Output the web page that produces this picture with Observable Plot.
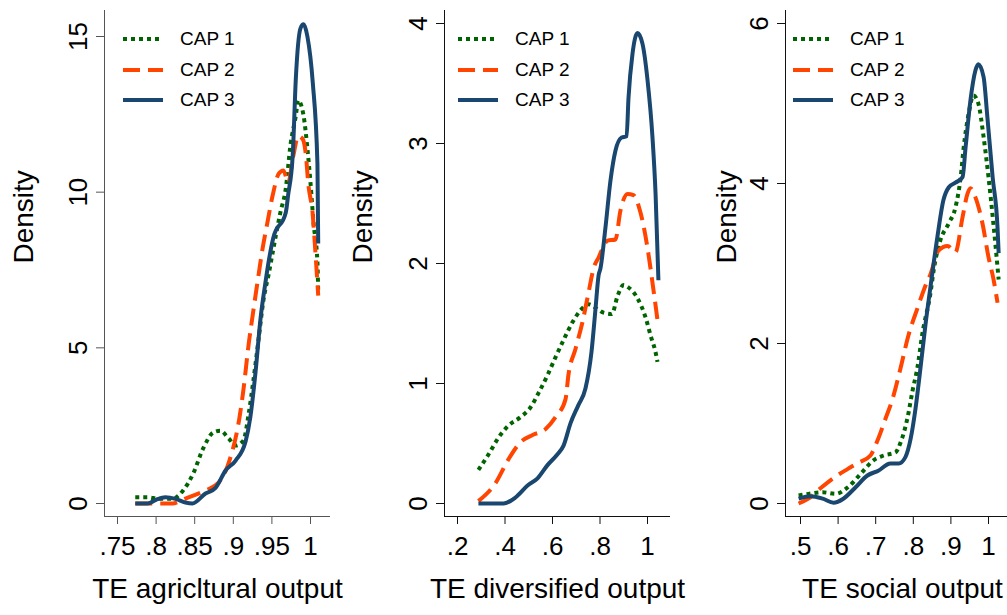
<!DOCTYPE html>
<html><head><meta charset="utf-8">
<script src="https://cdn.jsdelivr.net/npm/d3@7"></script>
<script src="https://cdn.jsdelivr.net/npm/@observablehq/plot@0.6"></script>
<style>
html,body{margin:0;padding:0;background:#fff;overflow:hidden}
#wrap{position:relative;width:1007px;height:615px;overflow:hidden;font-family:"Liberation Sans",Arial,sans-serif;background:#fff}
.panel{position:absolute;top:0;height:615px}
.panel svg{display:block}
.legend{position:absolute;left:123px;top:24px;font-size:19px;color:#000}
.legend .row{display:flex;align-items:center;height:30.5px}
.legend .row svg{margin-right:17px}
</style></head><body><div id="wrap"></div>
<script>
// ---- series definitions ----
const groups = ["CAP 1", "CAP 2", "CAP 3"];
const groupColors = ["#006400", "#ff4500", "#1a476f"];
const groupDash = ["4,4", "17,8", null];

// ---- Panel 1: TE agricultural output ----
const agriTicksX = [0.75, 0.8, 0.85, 0.9, 0.95, 1];
const agriTicksY = [0, 5, 10, 15];
const agriCap1X = [0.773,0.789,0.803,0.821,0.835,0.848,0.861,0.874,0.883,0.894,0.903,0.913,0.920,0.926,0.933,0.939,0.946,0.951,0.961,0.968,0.974,0.981,0.984,0.991,0.996,1.000,1.004,1.009,1.010];
const agriCap1Y = [0.2,0.2,0.15,0.15,0.42,0.96,1.77,2.28,2.34,2.09,1.86,2.02,2.89,3.95,5.33,6.52,7.39,8.06,9.35,10.12,11.5,12.46,12.95,12.46,11.4,10.3,9.0,7.74,6.75];
const agriCap2X = [0.773,0.800,0.821,0.838,0.864,0.881,0.895,0.908,0.913,0.920,0.926,0.933,0.938,0.944,0.951,0.959,0.965,0.971,0.978,0.984,0.990,0.994,0.997,1.003,1.006,1.010];
const agriCap2Y = [0,0,0,0.16,0.42,0.67,1.38,2.76,3.63,5.14,6.2,7.39,8.2,9.0,9.9,10.6,10.7,10.3,11.2,11.8,11.7,11.2,10.3,9.25,8.2,6.68];
const agriCap3X = [0.773,0.789,0.800,0.812,0.825,0.838,0.847,0.864,0.877,0.890,0.903,0.916,0.922,0.929,0.935,0.942,0.946,0.952,0.968,0.971,0.977,0.981,0.987,0.991,0.996,1.003,1.009,1.010];
const agriCap3Y = [0,0,0.12,0.2,0.15,0.03,0,0.32,0.5,1.06,1.38,2.0,2.76,4.27,5.88,7.16,7.8,8.55,9.35,9.9,11.2,13.65,15.26,15.39,15.0,13.5,10.9,8.35];

// ---- Panel 2: TE diversified output ----
const divTicksX = [0.2, 0.4, 0.6, 0.8, 1];
const divTicksY = [0, 1, 2, 3, 4];
const divCap1X = [0.288,0.331,0.373,0.415,0.465,0.507,0.541,0.579,0.613,0.646,0.684,0.718,0.752,0.790,0.815,0.850,0.874,0.899,0.920,0.958,0.992,1.013,1.034,1.042];
const divCap1Y = [0.28,0.41,0.55,0.65,0.72,0.80,0.92,1.07,1.22,1.36,1.51,1.61,1.66,1.62,1.59,1.58,1.73,1.82,1.8,1.71,1.55,1.4,1.26,1.18];
const divCap2X = [0.288,0.360,0.415,0.465,0.516,0.571,0.613,0.655,0.667,0.697,0.726,0.752,0.773,0.794,0.832,0.865,0.886,0.916,0.941,0.971,1.000,1.021,1.044];
const divCap2Y = [0.02,0.17,0.37,0.51,0.57,0.62,0.72,0.87,1.07,1.29,1.51,1.76,1.96,2.05,2.19,2.2,2.44,2.58,2.57,2.42,2.13,1.84,1.5];
const divCap3X = [0.288,0.394,0.444,0.495,0.537,0.579,0.621,0.646,0.676,0.709,0.739,0.764,0.781,0.794,0.802,0.823,0.844,0.865,0.891,0.912,0.920,0.937,0.958,0.979,1.000,1.021,1.034,1.046];
const divCap3Y = [0,0,0.05,0.15,0.21,0.32,0.41,0.48,0.67,0.82,0.96,1.26,1.62,1.9,1.96,2.3,2.69,2.94,3.05,3.06,3.38,3.75,3.92,3.83,3.53,3.05,2.58,1.86];

// ---- Panel 3: TE social output ----
const socTicksX = [0.5, 0.6, 0.7, 0.8, 0.9, 1];
const socTicksY = [0, 2, 4, 6];
const socCap1X = [0.495,0.521,0.559,0.593,0.625,0.660,0.694,0.721,0.753,0.766,0.785,0.798,0.811,0.824,0.846,0.854,0.872,0.894,0.912,0.926,0.934,0.947,0.960,0.973,0.987,1.000,1.013,1.027];
const socCap1Y = [0.1,0.12,0.14,0.12,0.2,0.37,0.54,0.6,0.64,0.76,1.08,1.41,1.7,2.12,2.64,2.91,3.29,3.5,3.7,4.08,4.45,4.87,5.1,5.0,4.58,4.08,3.5,2.8];
const socCap2X = [0.495,0.521,0.553,0.588,0.625,0.654,0.686,0.705,0.726,0.745,0.766,0.787,0.811,0.832,0.846,0.867,0.891,0.912,0.931,0.944,0.952,0.965,0.984,1.000,1.013,1.024];
const socCap2Y = [0,0.06,0.19,0.32,0.43,0.51,0.6,0.79,1.06,1.31,1.69,2.1,2.44,2.72,2.87,3.16,3.22,3.14,3.58,3.87,3.94,3.83,3.5,3.08,2.81,2.51];
const socCap3X = [0.495,0.527,0.559,0.588,0.614,0.646,0.678,0.707,0.739,0.761,0.779,0.793,0.806,0.819,0.832,0.846,0.864,0.880,0.894,0.912,0.931,0.939,0.952,0.965,0.973,0.987,0.997,1.011,1.024,1.027];
const socCap3Y = [0.06,0.09,0.06,0.01,0.06,0.2,0.35,0.41,0.5,0.5,0.58,0.81,1.19,1.69,2.22,2.72,3.33,3.79,3.95,4.01,4.08,4.45,5.04,5.41,5.49,5.33,4.83,4.08,3.45,3.13];

const fmtX = v => (v === 1 ? "1" : String(+v.toFixed(2)).replace(/^0/, ""));
const FONT = '"Liberation Sans", Arial, Helvetica, sans-serif';

function toRows(xs, ys) { return xs.map((x, i) => ({x, y: ys[i]})); }

function makePanel(cfg) {
  const marks = [
    Plot.ruleY([cfg.yDomain[0]], {stroke: cfg.axisColor, strokeWidth: 1}),
    Plot.ruleX([cfg.xDomain[0]], {stroke: cfg.axisColor, strokeWidth: 1}),
    Plot.axisX({ticks: cfg.xTicks, tickFormat: fmtX, tickSize: 8, tickPadding: 12.5, fontSize: 26, label: null, stroke: cfg.axisColor, fill: "#000"}),
    Plot.axisY({ticks: cfg.yTicks, tickFormat: d => String(d), tickSize: 8, tickPadding: 9.5, tickRotate: -90, fontSize: 26, label: null, stroke: cfg.axisColor, fill: "#000"}),
    Plot.text([cfg.xLabel], {frameAnchor: "bottom", dy: 81, fontSize: 28, fill: "#000", text: d => d}),
    Plot.text(["Density"], {frameAnchor: "left", dx: cfg.densityDx, rotate: -90, fontSize: 28, fill: "#000", text: d => d})
  ];
  cfg.series.forEach((s, i) => {
    marks.push(Plot.line(toRows(s[0], s[1]), {
      x: "x", y: "y", stroke: groupColors[i], strokeWidth: 4,
      strokeDasharray: groupDash[i] || undefined, curve: "monotone-x",
      strokeLinejoin: "round", strokeLinecap: "butt"
    }));
  });
  const plot = Plot.plot({
    width: cfg.width, height: 615,
    marginTop: 10, marginBottom: 99, marginLeft: cfg.marginLeft, marginRight: cfg.marginRight,
    style: {fontFamily: FONT, background: "transparent", color: "#000", overflow: "visible"},
    x: {domain: cfg.xDomain},
    y: {domain: cfg.yDomain},
    marks
  });
  const div = document.createElement("div");
  div.className = "panel";
  div.style.left = cfg.left + "px";
  div.style.width = cfg.width + "px";
  div.appendChild(plot);
  // legend
  const lg = document.createElement("div");
  lg.className = "legend";
  groups.forEach((g, i) => {
    const row = document.createElement("div");
    row.className = "row";
    row.innerHTML = `<svg width="40" height="6"><line x1="0" y1="3" x2="40" y2="3" stroke="${groupColors[i]}" stroke-width="4" ${groupDash[i] ? `stroke-dasharray="${groupDash[i]}"` : ""}/></svg><span>${g}</span>`;
    lg.appendChild(row);
  });
  div.appendChild(lg);
  document.getElementById("wrap").appendChild(div);
}

makePanel({
  left: 0, width: 335, marginLeft: 104, marginRight: 5,
  xDomain: [0.75 - 13 / 772, 1 + 20 / 772], yDomain: [-13 / 31.133, 493 / 31.133],
  xTicks: agriTicksX, yTicks: agriTicksY, xLabel: "TE agricltural output",
  densityDx: -80, axisColor: "#555",
  series: [[agriCap1X, agriCap1Y], [agriCap2X, agriCap2Y], [agriCap3X, agriCap3Y]]
});
makePanel({
  left: 335, width: 335, marginLeft: 109, marginRight: 0,
  xDomain: [0.2 - 13 / 237.5, 1 + 23 / 237.5], yDomain: [-13 / 120, 493 / 120],
  xTicks: divTicksX, yTicks: divTicksY, xLabel: "TE diversified output",
  densityDx: -81, axisColor: "#111",
  series: [[divCap1X, divCap1Y], [divCap2X, divCap2Y], [divCap3X, divCap3Y]]
});
makePanel({
  left: 670, width: 349, marginLeft: 115, marginRight: 0,
  xDomain: [0.5 - 15 / 376, 1 + 31 / 376], yDomain: [-13 / 80, 493 / 80],
  xTicks: socTicksX, yTicks: socTicksY, xLabel: "TE social output",
  densityDx: -58, axisColor: "#111",
  series: [[socCap1X, socCap1Y], [socCap2X, socCap2Y], [socCap3X, socCap3Y]]
});
</script></body></html>
